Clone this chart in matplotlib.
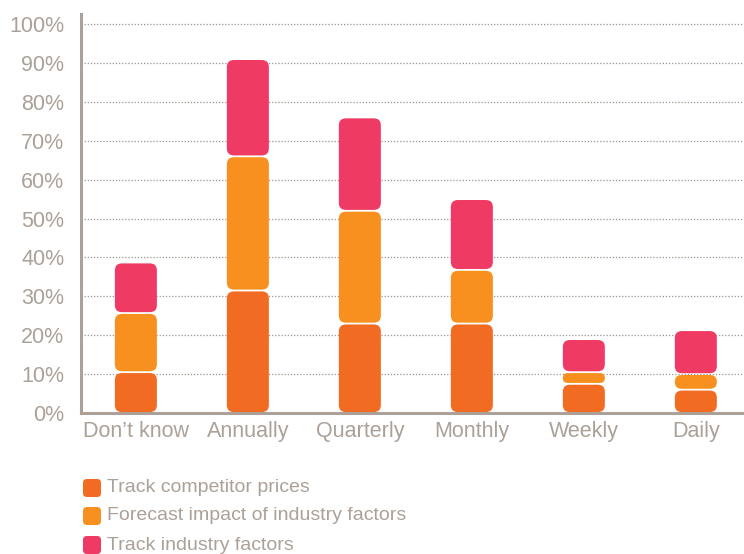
import matplotlib.pyplot as plt
from matplotlib.patches import FancyBboxPatch

categories = ["Don\u2019t know", "Annually", "Quarterly", "Monthly", "Weekly", "Daily"]
series_names = ["Track competitor prices", "Forecast impact of industry factors", "Track industry factors"]
competitor = [10.5, 31.5, 23, 23, 7.5, 6]
forecast = [15.2, 34.5, 29, 13.8, 3, 4]
industry = [13, 25, 24, 18.2, 8.5, 11.3]
yticks = [0, 10, 20, 30, 40, 50, 60, 70, 80, 90, 100]

colors = ["#F26B22", "#F7901E", "#EF3B63"]
text_color = "#ABA199"
axis_color = "#ABA199"

W, H = 744, 554
fig = plt.figure(figsize=(W / 100, H / 100), dpi=100)
plt.rcParams['font.family'] = ['Liberation Sans', 'DejaVu Sans']

ax = fig.add_axes([81 / W, 1 - 413 / H, (W - 81) / W, (413 - 14) / H])
ax.set_xlim(-0.49, 5.43)
ax.set_ylim(0, 102.6)

x = list(range(len(categories)))
bottoms = [0] * len(categories)
containers = []
for vals, col in zip([competitor, forecast, industry], colors):
    bars = ax.bar(x, vals, width=0.375, bottom=bottoms, color=col)
    containers.append(bars)
    bottoms = [b + v for b, v in zip(bottoms, vals)]

# replace the plain rectangles with rounded ones (7 px corners, small gap)
px_x = 1 / 112.0
px_y = 1 / 3.89
for bars in containers:
    for rect in bars:
        rx, ry = rect.get_x(), rect.get_y()
        rw, rh = rect.get_width(), rect.get_height()
        gap = 0.9 * px_y
        r = min(7, rh / px_y / 2 - 1)
        box = FancyBboxPatch((rx, ry + gap), rw, rh - 2 * gap,
                             boxstyle="round,pad=0,rounding_size=%f" % (r * px_x),
                             mutation_aspect=px_y / px_x,
                             facecolor=rect.get_facecolor(), edgecolor="none",
                             zorder=3)
        ax.add_patch(box)
        rect.set_visible(False)

ax.set_yticks(yticks)
ax.set_yticklabels(["%d%%" % t for t in yticks])
ax.set_xticks(x)
ax.set_xticklabels(categories)
ax.tick_params(axis="both", length=0, labelsize=15.5, colors=text_color)
ax.tick_params(axis="y", pad=12)
ax.tick_params(axis="x", pad=6)

for t in yticks[1:]:
    ax.axhline(t, color="#9E948B", lw=0.9, ls=(0, (1, 1.5)), zorder=1)

for s in ["top", "right"]:
    ax.spines[s].set_visible(False)
ax.spines["left"].set_color(axis_color)
ax.spines["bottom"].set_color(axis_color)
ax.spines["left"].set_linewidth(2.2)
ax.spines["bottom"].set_linewidth(2.2)
ax.spines["bottom"].set_zorder(4)

# legend with rounded swatches
rows_y = [488, 516, 545]
for name, col, yc in zip(series_names, colors, rows_y):
    sw = 18
    fig.add_artist(FancyBboxPatch((83 / W, 1 - (yc + sw / 2) / H), sw / W, sw / H,
                                  boxstyle="round,pad=0,rounding_size=%f" % (4 / W),
                                  mutation_aspect=W / H,
                                  transform=fig.transFigure,
                                  facecolor=col, edgecolor="none"))
    fig.text(107 / W, 1 - yc / H, name, color=text_color, fontsize=14,
             va="center", ha="left")

fig.savefig("out.png", dpi=100)
